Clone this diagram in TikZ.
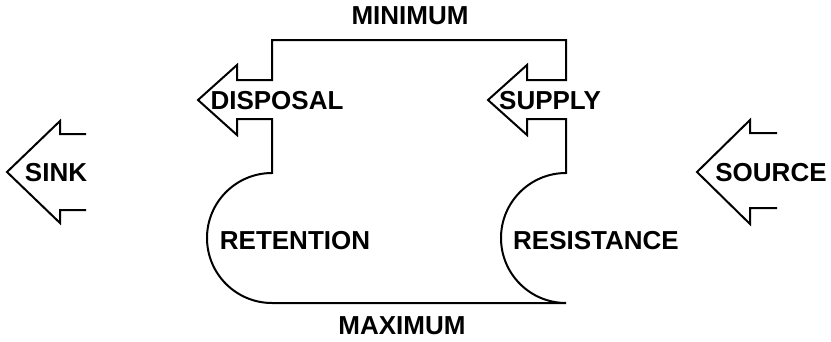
\documentclass[tikz,border=0pt]{standalone}
\usepackage{fontspec}
\setmainfont{Liberation Sans}
\begin{document}
\begin{tikzpicture}[x=1pt,y=-1pt,
  outline/.style={draw=black,line width=2pt,line join=miter},
  lbl/.style={inner sep=0pt,text depth=0pt,font=\fontsize{26}{30}\selectfont\bfseries}]
\useasboundingbox (0,0) rectangle (831,341);
% SINK arrow
\draw[outline] (86,134) -- (60,134) -- (60,121) -- (7,172) -- (60,223) -- (60,210) -- (86,210);
% SOURCE arrow
\draw[outline] (777,133) -- (750,133) -- (750,120) -- (697,172) -- (750,224) -- (750,208) -- (777,208);
% main outline
\draw[outline] (198,100) -- (237,65) -- (237,80) -- (272,80) -- (272,40) -- (566,40) -- (566,80)
  -- (527,80) -- (527,65) -- (488,100) -- (527,135) -- (527,119) -- (566,119) -- (566,173)
  arc[start angle=270,end angle=90,radius=65] -- (272,303)
  arc[start angle=90,end angle=270,radius=65] -- (272,119) -- (237,119) -- (237,135) -- cycle;
\node[lbl] (sink) at (56,172) {SINK};
\node[lbl] (source) at (771,172) {SOURCE};
\node[lbl] (disposal) at (277,100) {DISPOSAL};
\node[lbl] (supply) at (550,100) {SUPPLY};
\node[lbl] (minimum) at (410,16) {MINIMUM};
\node[lbl] (retention) at (295,240) {RETENTION};
\node[lbl] (resistance) at (596,240) {RESISTANCE};
\node[lbl] (maximum) at (402,326) {MAXIMUM};
\end{tikzpicture}
\end{document}
